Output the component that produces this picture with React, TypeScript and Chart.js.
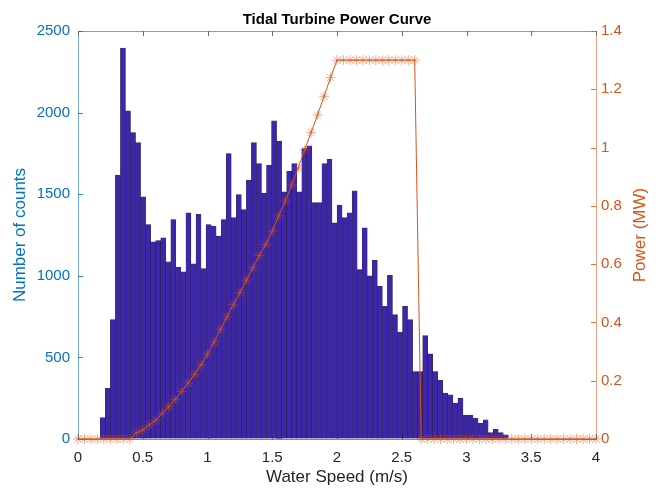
import React, { useEffect, useRef } from 'react';
import { Chart, registerables } from 'chart.js';

Chart.register(...registerables);

// Histogram of water speed (m/s): bin layout and counts per bin
const BIN_START = 0.172;
const BIN_WIDTH = 0.0389;
const COUNTS = [
  131, 311, 731, 1617, 2395, 2011, 1878, 1816, 1484, 1314,
  1208, 1216, 1233, 1085, 1345, 1054, 1024, 1386, 1073, 1376,
  1044, 1314, 1304, 1243, 1345, 1749, 1356, 1497, 1405, 1586,
  1816, 1687, 1505, 1677, 1949, 1826, 1515, 1640, 1687, 1515,
  1780, 1796, 1448, 1448, 1687, 1715, 1325, 1434, 1356, 1386,
  1520, 1038, 1294, 1000, 1095, 936, 813, 1003, 762, 655,
  813, 731, 413, 413, 633, 522, 413, 360, 281, 270,
  219, 250, 147, 147, 127, 96, 117, 39, 60, 39,
  25,
];

// Power curve: speed (m/s) vs power (MW)
const POWER_SPEED = [
  0, 0.05, 0.1, 0.15, 0.2, 0.25, 0.3, 0.35, 0.4, 0.45,
  0.5, 0.55, 0.6, 0.65, 0.7, 0.75, 0.8, 0.85, 0.9, 0.95,
  1, 1.05, 1.1, 1.15, 1.2, 1.25, 1.3, 1.35, 1.4, 1.45,
  1.5, 1.55, 1.6, 1.65, 1.7, 1.75, 1.8, 1.85, 1.9, 1.95,
  2, 2.05, 2.1, 2.15, 2.2, 2.25, 2.3, 2.35, 2.4, 2.45,
  2.5, 2.55, 2.6, 2.65, 2.7, 2.75, 2.8, 2.85, 2.9, 2.95,
  3, 3.05, 3.1, 3.15, 3.2, 3.25, 3.3, 3.35, 3.4, 3.45,
  3.5, 3.55, 3.6, 3.65, 3.7, 3.75, 3.8, 3.85, 3.9, 3.95,
  4,
];
const POWER_MW = [
  0, 0, 0, 0, 0, 0, 0, 0, 0, 0.02,
  0.031, 0.048, 0.065, 0.088, 0.111, 0.136, 0.163, 0.192, 0.222, 0.255,
  0.292, 0.333, 0.376, 0.419, 0.461, 0.503, 0.545, 0.588, 0.63, 0.668,
  0.713, 0.766, 0.816, 0.872, 0.93, 0.992, 1.052, 1.112, 1.176, 1.24,
  1.3, 1.3, 1.3, 1.3, 1.3, 1.3, 1.3, 1.3, 1.3, 1.3,
  1.3, 1.3, 1.3, 0, 0, 0, 0, 0, 0, 0,
  0, 0, 0, 0, 0, 0, 0, 0, 0, 0,
  0, 0, 0, 0, 0, 0, 0, 0, 0, 0,
  0,
];

const TITLE = 'Tidal Turbine Power Curve';
const X_LABEL = 'Water Speed (m/s)';
const Y_LEFT_LABEL = 'Number of counts';
const Y_RIGHT_LABEL = 'Power (MW)';

const FONT = 'Liberation Sans, Arial, Helvetica, sans-serif';
const BLUE = '#0072BD';
const ORANGE = '#D95319';
const DARK = '#262626';

export default function App() {
  const canvasRef = useRef<HTMLCanvasElement | null>(null);

  useEffect(() => {
    document.body.style.margin = '0';
    const canvas = canvasRef.current;
    if (!canvas) return;

    const barData = COUNTS.map((c, i) => ({ x: BIN_START + BIN_WIDTH * (i + 0.5), y: c }));
    const lineData = POWER_MW.map((p, i) => ({ x: POWER_SPEED[i], y: p }));

    const frame = {
      id: 'matlabFrame',
      beforeDatasetsDraw(chart: any) {
        const { ctx, chartArea, scales } = chart;
        const { left, right, top, bottom } = chartArea;
        const L = 5;
        ctx.save();
        ctx.lineWidth = 1;
        ctx.strokeStyle = '#9a9a9a';
        ctx.beginPath();
        ctx.moveTo(left, top + 0.5);
        ctx.lineTo(right, top + 0.5);
        ctx.stroke();
        ctx.strokeStyle = '#6e6e6e';
        scales.x.ticks.forEach((t: any) => {
          const px = Math.round(scales.x.getPixelForValue(t.value)) + 0.5;
          ctx.beginPath();
          ctx.moveTo(px, bottom);
          ctx.lineTo(px, bottom - L);
          ctx.moveTo(px, top);
          ctx.lineTo(px, top + L);
          ctx.stroke();
        });
        ctx.strokeStyle = 'rgba(0,114,189,0.8)';
        scales.y.ticks.forEach((t: any) => {
          const py = Math.round(scales.y.getPixelForValue(t.value)) + 0.5;
          ctx.beginPath();
          ctx.moveTo(left, py);
          ctx.lineTo(left + L, py);
          ctx.stroke();
        });
        ctx.strokeStyle = 'rgba(217,83,25,0.8)';
        scales.y1.ticks.forEach((t: any) => {
          const py = Math.round(scales.y1.getPixelForValue(t.value)) + 0.5;
          ctx.beginPath();
          ctx.moveTo(right, py);
          ctx.lineTo(right - L, py);
          ctx.stroke();
        });
        ctx.restore();
      },
      afterDraw(chart: any) {
        const { ctx, chartArea } = chart;
        ctx.save();
        ctx.fillStyle = ORANGE;
        ctx.font = `17px ${FONT}`;
        ctx.textAlign = 'center';
        ctx.textBaseline = 'middle';
        ctx.translate(640, (chartArea.top + chartArea.bottom) / 2);
        ctx.rotate(-Math.PI / 2);
        ctx.fillText(Y_RIGHT_LABEL, 0, 0);
        ctx.restore();
      },
    };

    const chart = new Chart(canvas, {
      type: 'bar',
      data: {
        datasets: [
          {
            type: 'line',
            label: 'Power',
            data: lineData,
            xAxisID: 'x',
            yAxisID: 'y1',
            borderColor: ORANGE,
            borderWidth: 1,
            pointStyle: 'star',
            pointRadius: 5,
            pointBorderWidth: 1,
            pointBorderColor: 'rgba(217,83,25,0.5)',
            pointBackgroundColor: 'rgba(0,0,0,0)',
            tension: 0,
            clip: false,
            order: 0,
          } as any,
          {
            type: 'bar',
            label: 'Counts',
            data: barData,
            xAxisID: 'x',
            yAxisID: 'y',
            backgroundColor: '#3E26A8',
            borderColor: 'rgba(20,12,50,0.85)',
            borderWidth: 0.6,
            barPercentage: 1,
            categoryPercentage: 1,
            order: 1,
          } as any,
        ],
      },
      options: {
        responsive: false,
        animation: false,
        devicePixelRatio: 1,
        layout: { padding: 0 },
        plugins: {
          legend: { display: false },
          tooltip: { enabled: false },
          title: {
            display: true,
            text: TITLE,
            fullSize: false,
            color: '#000',
            font: { family: FONT, size: 15, weight: 'bold' },
            padding: { top: 11, bottom: 2 },
          },
        },
        scales: {
          x: {
            type: 'linear',
            position: 'bottom',
            min: 0,
            max: 4,
            offset: false,
            afterFit: (s: any) => { s.height = 49; },
            grid: { display: true, drawOnChartArea: false, drawTicks: false },
            border: { display: true, color: '#8a8a8a', width: 1 },
            ticks: {
              stepSize: 0.5,
              color: DARK,
              padding: 10,
              font: { family: FONT, size: 15 },
              callback: (v: any) => String(v),
              maxRotation: 0,
            },
            title: {
              display: true,
              text: X_LABEL,
              color: DARK,
              font: { family: FONT, size: 17 },
              padding: { top: 0, bottom: 0 },
            },
          },
          y: {
            type: 'linear',
            position: 'left',
            min: 0,
            max: 2500,
            afterFit: (s: any) => { s.width = 78; },
            grid: { display: true, drawOnChartArea: false, drawTicks: false },
            border: { display: true, color: 'rgba(0,114,189,0.55)', width: 1 },
            ticks: {
              stepSize: 500,
              color: BLUE,
              padding: 8,
              font: { family: FONT, size: 15 },
              callback: (v: any) => String(v),
            },
            title: {
              display: true,
              text: Y_LEFT_LABEL,
              color: BLUE,
              font: { family: FONT, size: 17 },
              padding: { top: 10, bottom: 0 },
            },
          },
          y1: {
            type: 'linear',
            position: 'right',
            min: 0,
            max: 1.4,
            afterFit: (s: any) => { s.width = 62; },
            grid: { display: true, drawOnChartArea: false, drawTicks: false },
            border: { display: true, color: 'rgba(217,83,25,0.55)', width: 1 },
            ticks: {
              stepSize: 0.2,
              color: ORANGE,
              padding: 5,
              font: { family: FONT, size: 15 },
              callback: (v: any) => String(Math.round(v * 10) / 10),
            },
          },
        },
      },
      plugins: [frame],
    } as any);

    return () => chart.destroy();
  }, []);

  return (
    <div style={{ width: 658, height: 488 }}>
      <canvas ref={canvasRef} width={658} height={488} style={{ display: 'block' }} />
    </div>
  );
}
